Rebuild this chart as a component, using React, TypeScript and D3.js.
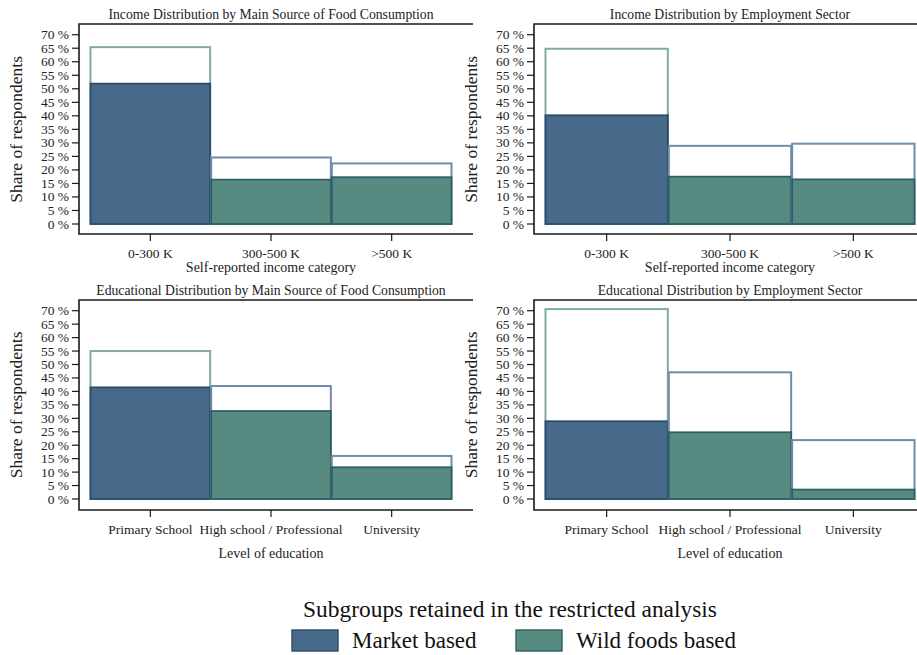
import React from "react";
import * as d3 from "d3";

const incomeCategories = ["0-300 K", "300-500 K", ">500 K"];
const educationCategories = ["Primary School", "High school / Professional", "University"];
const yTicks = [0, 5, 10, 15, 20, 25, 30, 35, 40, 45, 50, 55, 60, 65, 70];

// Total share (outline) and share retained (filled) per category
const incomeFoodTotal = [65.4, 24.6, 22.4];
const incomeFoodRetained = [51.9, 16.4, 17.3];
const incomeEmpTotal = [64.8, 28.9, 29.7];
const incomeEmpRetained = [40.2, 17.5, 16.5];
const eduFoodTotal = [55.0, 42.0, 16.0];
const eduFoodRetained = [41.5, 32.7, 11.8];
const eduEmpTotal = [70.6, 47.1, 21.9];
const eduEmpRetained = [28.9, 24.8, 3.5];
const retainedGroup = ["Market based", "Wild foods based", "Wild foods based"];

const legendTitle = "Subgroups retained in the restricted analysis";
const legendItems = ["Market based", "Wild foods based"];

const FILL: Record<string, string> = { "Market based": "#486a8a", "Wild foods based": "#578a81" };
const EDGE: Record<string, string> = { "Market based": "#2a4c6c", "Wild foods based": "#2f5f68" };
const OUTLINE: Record<string, string> = { "Market based": "#80aaa4", "Wild foods based": "#6f8dab" };

const FONT = "'Liberation Serif', 'Times New Roman', serif";

type PanelProps = {
  title: string;
  cats: string[];
  total: number[];
  retained: number[];
  xTitle: string;
  fx0: number;
  fx1: number;
  fy0: number;
  fy1: number;
  yZero: number;
  ySeventy: number;
  xTitleGap: number;
};

function Panel(p: PanelProps) {
  const x = d3.scaleBand<string>().domain(p.cats).range([p.fx0 + 11, p.fx1 - 11]).padding(0);
  const y = d3.scaleLinear().domain([0, 70]).range([p.yZero, p.ySeventy]);
  const cx = (p.fx0 + p.fx1) / 2;
  const midY = (p.yZero + p.ySeventy) / 2;
  return (
    <g>
      <text x={cx} y={p.fy0 - 5} textAnchor="middle" fontSize={13.7} fill="#222">
        {p.title}
      </text>
      <path
        d={`M${p.fx1 + 10},${p.fy0}H${p.fx0}V${p.fy1}H${p.fx1 + 10}`}
        fill="none"
        stroke="#1a1a1a"
        strokeWidth={1.6}
      />
      {yTicks.map((t) => (
        <g key={t}>
          <line x1={p.fx0 - 7} x2={p.fx0} y1={y(t)} y2={y(t)} stroke="#1a1a1a" strokeWidth={1.2} />
          <text x={p.fx0 - 10} y={y(t) + 4.5} textAnchor="end" fontSize={13.5} fill="#222">
            {`${t} %`}
          </text>
        </g>
      ))}
      <text
        transform={`translate(${p.fx0 - 57},${midY}) rotate(-90)`}
        textAnchor="middle"
        fontSize={17.5}
        fill="#222"
      >
        Share of respondents
      </text>
      {p.cats.map((c, i) => {
        const g = retainedGroup[i];
        const x0 = x(c)!;
        const w = x.bandwidth();
        return (
          <g key={c}>
            <rect
              x={x0 + 0.5}
              y={y(p.total[i])}
              width={w - 1}
              height={y(0) - y(p.total[i])}
              fill="#fff"
              stroke={OUTLINE[g]}
              strokeWidth={2}
            />
            <rect
              x={x0 + 0.5}
              y={y(p.retained[i])}
              width={w - 1}
              height={y(0) - y(p.retained[i])}
              fill={FILL[g]}
              stroke={EDGE[g]}
              strokeWidth={1.8}
            />
            <line
              x1={x0 + w / 2}
              x2={x0 + w / 2}
              y1={p.fy1}
              y2={p.fy1 + 7}
              stroke="#1a1a1a"
              strokeWidth={1.2}
            />
            <text x={x0 + w / 2} y={p.fy1 + 24} textAnchor="middle" fontSize={13.5} fill="#222">
              {c}
            </text>
          </g>
        );
      })}
      <text x={cx} y={p.fy1 + 24 + p.xTitleGap} textAnchor="middle" fontSize={14} fill="#222">
        {p.xTitle}
      </text>
    </g>
  );
}

export default function App() {
  return (
    <svg
      width={917}
      height={655}
      style={{ position: "absolute", left: 0, top: 0, background: "#fff" }}
      fontFamily={FONT}
    >
      <rect width={917} height={655} fill="#fff" />
      <Panel
        title="Income Distribution by Main Source of Food Consumption"
        cats={incomeCategories}
        total={incomeFoodTotal}
        retained={incomeFoodRetained}
        xTitle="Self-reported income category"
        fx0={79}
        fx1={463}
        fy0={24}
        fy1={234}
        yZero={224}
        ySeventy={34.7}
        xTitleGap={14}
      />
      <Panel
        title="Income Distribution by Employment Sector"
        cats={incomeCategories}
        total={incomeEmpTotal}
        retained={incomeEmpRetained}
        xTitle="Self-reported income category"
        fx0={534}
        fx1={926}
        fy0={24}
        fy1={234}
        yZero={224}
        ySeventy={34.7}
        xTitleGap={14}
      />
      <Panel
        title="Educational Distribution by Main Source of Food Consumption"
        cats={educationCategories}
        total={eduFoodTotal}
        retained={eduFoodRetained}
        xTitle="Level of education"
        fx0={79}
        fx1={463}
        fy0={300}
        fy1={510}
        yZero={499}
        ySeventy={310.7}
        xTitleGap={24}
      />
      <Panel
        title="Educational Distribution by Employment Sector"
        cats={educationCategories}
        total={eduEmpTotal}
        retained={eduEmpRetained}
        xTitle="Level of education"
        fx0={534}
        fx1={926}
        fy0={300}
        fy1={510}
        yZero={499}
        ySeventy={310.7}
        xTitleGap={24}
      />
      <text x={510} y={617} textAnchor="middle" fontSize={23.4} fill="#111">
        {legendTitle}
      </text>
      {legendItems.map((item, i) => {
        const sx = 292 + i * 224;
        return (
          <g key={item}>
            <rect x={sx} y={630} width={46} height={21} fill={FILL[item]} stroke={EDGE[item]} strokeWidth={1.4} />
            <text x={sx + 60} y={648} fontSize={23} fill="#111">
              {item}
            </text>
          </g>
        );
      })}
    </svg>
  );
}
